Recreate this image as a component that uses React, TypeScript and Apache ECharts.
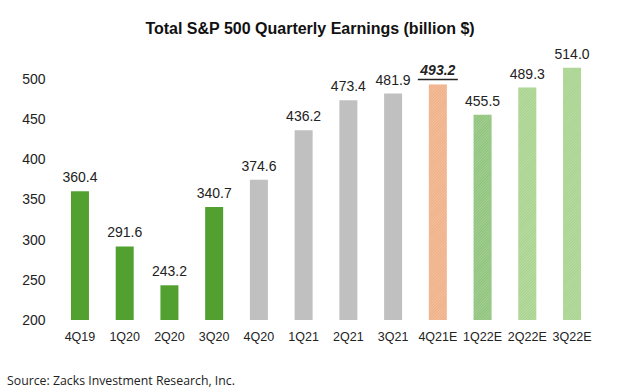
import React, { useEffect, useRef } from "react";
import * as echarts from "echarts";

const categories = ["4Q19", "1Q20", "2Q20", "3Q20", "4Q20", "1Q21", "2Q21", "3Q21", "4Q21E", "1Q22E", "2Q22E", "3Q22E"];
const earnings = [360.4, 291.6, 243.2, 340.7, 374.6, 436.2, 473.4, 481.9, 493.2, 455.5, 489.3, 514.0];
const barColors = ["#52A030", "#52A030", "#52A030", "#52A030", "#C0C0C0", "#C0C0C0", "#C0C0C0", "#C0C0C0", "#F0AE84", "#8CC277", "#A6D28B", "#A6D28B"];
const hatched = [false, false, false, false, false, false, false, false, true, true, true, true];
const highlightIndex = 8;

export default function App() {
  const ref = useRef<HTMLDivElement>(null);
  useEffect(() => {
    if (!ref.current) return;
    const chart = echarts.init(ref.current, undefined, { renderer: "svg" });
    const font = "'Liberation Sans', Arial, sans-serif";
    const data = earnings.map((v, i) => ({
      value: v,
      itemStyle: {
        color: barColors[i],
        decal: hatched[i]
          ? { symbol: "rect", symbolSize: 1, dashArrayX: [1, 0], dashArrayY: [1, 1], rotation: -Math.PI / 4, color: "rgba(255,255,255,0.22)" }
          : "none",
      },
      label:
        i === highlightIndex
          ? { formatter: "{b|{c}}\n{u|}", distance: 4 }
          : undefined,
    }));
    chart.setOption({
      animation: false,
      aria: { enabled: false, decal: { show: true } },
      title: {
        text: "Total S&P 500 Quarterly Earnings (billion $)",
        left: "center",
        top: 15,
        textStyle: { fontFamily: font, fontSize: 16, fontWeight: "bold", color: "#111" },
      },
      graphic: [
        {
          type: "text",
          left: 7,
          top: 374,
          style: { text: "Source: Zacks Investment Research, Inc.", font: "12.3px 'Open Sans', 'Noto Sans', sans-serif", fill: "#222" },
        },
      ],
      grid: { left: 57.6, right: 25.6, top: 62.9, bottom: 69, containLabel: false },
      xAxis: {
        type: "category",
        data: categories,
        axisLine: { show: false },
        axisTick: { show: false },
        axisLabel: { fontFamily: font, fontSize: 12.5, color: "#222", margin: 10, interval: 0 },
      },
      yAxis: {
        type: "value",
        min: 200,
        max: 520,
        interval: 50,
        axisLine: { show: false },
        axisTick: { show: false },
        splitLine: { show: false },
        axisLabel: { fontFamily: font, fontSize: 14, color: "#222", margin: 12, showMaxLabel: false },
      },
      series: [
        {
          type: "bar",
          data,
          barWidth: 18,
          label: {
            show: true,
            position: "top",
            distance: 7,
            fontFamily: font,
            fontSize: 14,
            color: "#222",
            formatter: (p: any) => p.value.toFixed(1),
            rich: {
              b: { fontFamily: font, fontSize: 14, fontWeight: "bold", fontStyle: "italic", color: "#222", lineHeight: 16 },
              u: { height: 1.5, width: 40, backgroundColor: "#222", lineHeight: 2 },
            },
          },
        },
      ],
    });
    return () => chart.dispose();
  }, []);
  return <div ref={ref} style={{ position: "fixed", left: 0, top: 0, width: 620, height: 389, background: "#fff" }} />;
}
